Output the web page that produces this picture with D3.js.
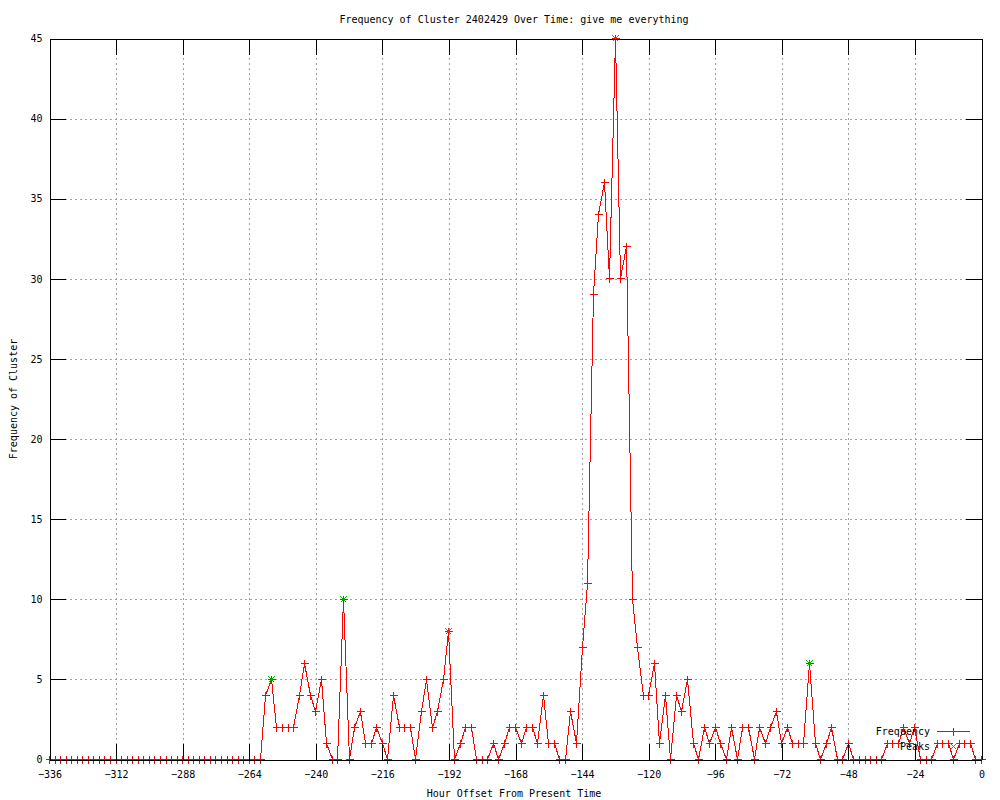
<!DOCTYPE html>
<html>
<head>
<meta charset="utf-8">
<script src="https://cdn.jsdelivr.net/npm/d3@7"></script>
<style>
  body { margin: 0; background: #fff; }
  svg text { font-family: "DejaVu Sans Mono", monospace; font-size: 10px; fill: #000; }
</style>
</head>
<body>
<div id="chart"></div>
<script>
// hourly samples every 2 hours, from -336 up to 0
var hourStart = -336, hourStep = 2;

var frequency = [
  0,0,0,0,0,0,0,0,0,0, 0,0,0,0,0,0,0,0,0,0, 0,0,0,0,0,0,0,0,0,0, 0,0,0,0,0,0,0,0,0,   // -336 .. -260
  4,5,2,2,2,2,4,6,4,3,5,1,0,0,10,0,2,3,1,1,2,1,0,4,2,2,2,0,3,5,2,3,5,8,            // -258 .. -192
  0,1,2,2,0,0,0,1,0,1,2,2,1,2,2,1,4,1,1,0,0,3,1,7,11,                              // -190 .. -142
  29,34,36,30,45,30,32,10,7,4,4,6,1,4,0,4,3,5,1,0,                                 // -140 .. -102
  2,1,2,1,0,2,0,2,2,0,2,1,2,3,1,2,1,1,1,6,1,0,1,2,0,0,1,                           // -100 .. -48
  0,0,0,0,0,0,1,1,1,2,1,2,0,0,0,1,1,1,0,1,1,1,0,0                                  // -46 .. 0
];

var peakHours = [-256, -230, -192, -132, -62];
var peakValues = [5, 10, 8, 45, 6];

var xTicks = [-336, -312, -288, -264, -240, -216, -192, -168, -144, -120, -96, -72, -48, -24, 0];
var yTicks = [0, 5, 10, 15, 20, 25, 30, 35, 40, 45];

var titleText = "Frequency of Cluster 2402429 Over Time: give me everything";
var xLabel = "Hour Offset From Present Time";
var yLabel = "Frequency of Cluster";
var seriesNames = ["Frequency", "Peaks"];

var width = 1000, height = 800;
// plot box (half pixels so 1px lines stay sharp)
var plotLeft = 49.5, plotRight = 981.5, plotTop = 38.5, plotBottom = 759.5;
var tickLen = 16;

var svg = d3.select("#chart").append("svg")
    .attr("width", width)
    .attr("height", height)
    .attr("shape-rendering", "crispEdges");

var x = d3.scaleLinear().domain([-336, 0]).range([plotLeft, plotRight]);
var y = d3.scaleLinear().domain([0, 45]).range([plotBottom, plotTop]);

// snap a marker centre onto a pixel centre
function px(v){ return Math.floor(v) + 0.5; }

var points = frequency.map(function(v, i){ return {h: hourStart + i * hourStep, v: v}; });
var peaks = peakHours.map(function(h, i){ return {h: h, v: peakValues[i]}; });

// grid
svg.append("g")
    .attr("transform", "translate(0," + plotBottom + ")")
    .call(d3.axisBottom(x).tickValues(xTicks).tickSize(-(plotBottom - plotTop)).tickFormat(""))
    .call(function(g){
        g.select(".domain").remove();
        g.selectAll("line").attr("stroke", "#a0a0a0").attr("stroke-dasharray", "2,3");
    });
svg.append("g")
    .attr("transform", "translate(" + plotLeft + ",0)")
    .call(d3.axisLeft(y).tickValues(yTicks).tickSize(-(plotRight - plotLeft)).tickFormat(""))
    .call(function(g){
        g.select(".domain").remove();
        g.selectAll("line").attr("stroke", "#a0a0a0").attr("stroke-dasharray", "2,3");
    });

// frequency line
svg.append("path")
    .datum(points)
    .attr("fill", "none")
    .attr("stroke", "#ff0000")
    .attr("stroke-width", 1)
    .attr("d", d3.line().x(function(d){ return px(x(d.h)); }).y(function(d){ return px(y(d.v)); }));

var plus = "M-4,0H4M0,-4V4";
var cross = "M-3,-3L3,3M-3,3L3,-3";

svg.append("g").selectAll("path")
    .data(points)
    .enter().append("path")
    .attr("transform", function(d){ return "translate(" + px(x(d.h)) + "," + px(y(d.v)) + ")"; })
    .attr("d", plus)
    .attr("stroke", "#ff0000")
    .attr("fill", "none");

svg.append("g").selectAll("path")
    .data(peaks)
    .enter().append("path")
    .attr("transform", function(d){ return "translate(" + px(x(d.h)) + "," + px(y(d.v)) + ")"; })
    .attr("d", cross)
    .attr("stroke", "#00c000")
    .attr("fill", "none");

// border and inward ticks, gnuplot style
svg.append("g")
    .attr("transform", "translate(0," + plotBottom + ")")
    .call(d3.axisBottom(x).tickValues(xTicks).tickSizeInner(-tickLen).tickSizeOuter(0).tickPadding(11));
svg.append("g")
    .attr("transform", "translate(0," + plotTop + ")")
    .call(d3.axisTop(x).tickValues(xTicks).tickSizeInner(-tickLen).tickSizeOuter(0).tickFormat(""));
svg.append("g")
    .attr("transform", "translate(" + plotLeft + ",0)")
    .call(d3.axisLeft(y).tickValues(yTicks).tickSizeInner(-tickLen).tickSizeOuter(0).tickPadding(7));
svg.append("g")
    .attr("transform", "translate(" + plotRight + ",0)")
    .call(d3.axisRight(y).tickValues(yTicks).tickSizeInner(-tickLen).tickSizeOuter(0).tickFormat(""));

svg.selectAll(".tick text")
    .attr("font-family", null)
    .attr("font-size", null);

// titles
svg.append("text")
    .attr("x", 514).attr("y", 23)
    .attr("text-anchor", "middle")
    .text(titleText);
svg.append("text")
    .attr("x", 514).attr("y", 797)
    .attr("text-anchor", "middle")
    .text(xLabel);
svg.append("text")
    .attr("transform", "translate(17,399) rotate(-90)")
    .attr("text-anchor", "middle")
    .text(yLabel);

// legend (bottom right)
var legend = svg.append("g");
var legendY = [731.5, 746.5];
legend.selectAll("text")
    .data(seriesNames)
    .enter().append("text")
    .attr("x", 930)
    .attr("y", function(d, i){ return legendY[i]; })
    .attr("dy", "0.35em")
    .attr("text-anchor", "end")
    .text(function(d){ return d; });
legend.append("line")
    .attr("x1", 937).attr("x2", 970)
    .attr("y1", legendY[0]).attr("y2", legendY[0])
    .attr("stroke", "#ff0000");
legend.append("path")
    .attr("transform", "translate(953.5," + legendY[0] + ")")
    .attr("d", plus).attr("stroke", "#ff0000").attr("fill", "none");
legend.append("path")
    .attr("transform", "translate(953.5," + legendY[1] + ")")
    .attr("d", cross).attr("stroke", "#00c000").attr("fill", "none");
</script>
</body>
</html>
